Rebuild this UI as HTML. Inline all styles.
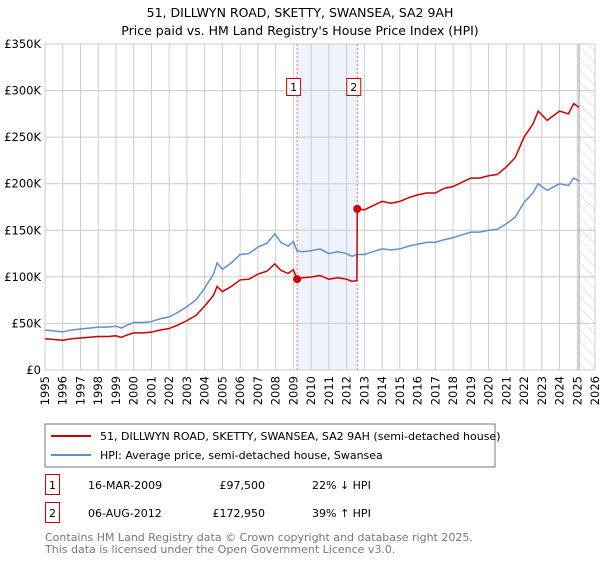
<!DOCTYPE html>
<html><head><meta charset="utf-8"><style>
body{margin:0;background:#fff;font-family:"Liberation Sans","DejaVu Sans",sans-serif;}
svg text{font-family:"DejaVu Sans","Liberation Sans",sans-serif;}
</style></head><body>
<svg id="c" width="600" height="560" xmlns="http://www.w3.org/2000/svg">
<defs><pattern id="hatch" width="8" height="8" patternUnits="userSpaceOnUse" patternTransform="rotate(-45)"><line x1="0" y1="0" x2="0" y2="8" stroke="#ccc" stroke-width="1"/></pattern></defs>
<text x="300" y="17" text-anchor="middle" font-size="12.5">51, DILLWYN ROAD, SKETTY, SWANSEA, SA2 9AH</text>
<text x="300" y="35" text-anchor="middle" font-size="12.5">Price paid vs. HM Land Registry's House Price Index (HPI)</text>
<g id="plot"></g>
<rect x="45" y="424" width="450" height="43" fill="#fff" stroke="#777"/>
<line x1="51" y1="436" x2="91" y2="436" stroke="#cc0000" stroke-width="2"/>
<text x="100" y="440" font-size="11">51, DILLWYN ROAD, SKETTY, SWANSEA, SA2 9AH (semi-detached house)</text>
<line x1="51" y1="455" x2="91" y2="455" stroke="#6090d0" stroke-width="2"/>
<text x="100" y="459" font-size="11">HPI: Average price, semi-detached house, Swansea</text>
<g>
<rect x="45.5" y="474.5" width="14" height="20" fill="#fff" stroke="#cc0000"/>
<text x="52.5" y="489" text-anchor="middle" font-size="11">1</text>
<text x="88" y="489" font-size="11">16-MAR-2009</text>
<text x="265" y="489" text-anchor="end" font-size="11">£97,500</text>
<text x="312" y="489" font-size="11">22% ↓ HPI</text></g>
<g>
<rect x="45.5" y="502.5" width="14" height="20" fill="#fff" stroke="#cc0000"/>
<text x="52.5" y="517" text-anchor="middle" font-size="11">2</text>
<text x="88" y="517" font-size="11">06-AUG-2012</text>
<text x="265" y="517" text-anchor="end" font-size="11">£172,950</text>
<text x="312" y="517" font-size="11">39% ↑ HPI</text></g>
<text x="45" y="541" font-size="11" fill="#777">Contains HM Land Registry data © Crown copyright and database right 2025.</text>
<text x="45" y="553" font-size="11" fill="#777">This data is licensed under the Open Government Licence v3.0.</text>
</svg>
<script>
const hpiYears=[1995,1995.5,1996,1996.5,1997,1997.5,1998,1998.5,1999,1999.3,1999.6,2000,2000.5,2001,2001.5,2002,2002.5,2003,2003.5,2004,2004.5,2004.7,2005,2005.5,2006,2006.5,2007,2007.5,2007.95,2008.3,2008.7,2009,2009.2,2009.5,2010,2010.5,2011,2011.5,2012,2012.3,2012.6,2013,2013.5,2014,2014.5,2015,2015.5,2016,2016.5,2017,2017.5,2018,2018.5,2019,2019.5,2020,2020.5,2021,2021.5,2022,2022.5,2022.8,2023,2023.3,2023.8,2024,2024.5,2024.8,2025.1];
const hpiValues=[43,42,41,43,44,45,46,46,47,45,48,51,51,52,55,57,62,68,75,88,103,115,108,115,124,125,132,136,146,137,133,138,128,127,128,130,125,127,125,122,124,124,127,130,129,130,133,135,137,137,140,142,145,148,148,150,151,157,164,180,190,200,197,193,198,200,198,206,203];
const priceYears=[1995,1995.5,1996,1996.5,1997,1997.5,1998,1998.5,1999,1999.3,1999.6,2000,2000.5,2001,2001.5,2002,2002.5,2003,2003.5,2004,2004.5,2004.7,2005,2005.5,2006,2006.5,2007,2007.5,2007.95,2008.3,2008.7,2009,2009.2,2009.5,2010,2010.5,2011,2011.5,2012,2012.3,2012.58,2012.6,2013,2013.5,2014,2014.5,2015,2015.5,2016,2016.5,2017,2017.5,2018,2018.5,2019,2019.5,2020,2020.5,2021,2021.5,2022,2022.5,2022.8,2023,2023.3,2023.8,2024,2024.5,2024.8,2025.1];
const priceValues=[33.5,32.8,32,33.5,34.3,35.1,35.9,35.9,36.7,35.1,37.4,39.8,39.8,40.6,42.9,44.5,48.4,53,58.5,68.6,80.3,89.7,84.2,89.7,96.7,97.5,103,106,113.9,106.9,103.7,107.6,97.5,99,99.8,101.4,97.5,99,97.5,95.2,96,173,172,176.5,181,179,181,185,188,190,190,195,197,201.5,206,206,208.5,210,218,228,250,264,278,274,268,275,278,275,286,282];
const saleYears=[2009.21,2012.6];
const saleValues=[97.5,172.95];
const saleLabels=["1","2"];
const yTicks=[0,50,100,150,200,250,300,350];
const yTickLabels=["£0","£50K","£100K","£150K","£200K","£250K","£300K","£350K"];
const xTicks=[1995,1996,1997,1998,1999,2000,2001,2002,2003,2004,2005,2006,2007,2008,2009,2010,2011,2012,2013,2014,2015,2016,2017,2018,2019,2020,2021,2022,2023,2024,2025,2026];

const NS="http://www.w3.org/2000/svg";
const X0=45,X1=595,Y0=370,Y1=44;
const xs=y=>X0+(y-1995)/(2026-1995)*(X1-X0);
const ys=v=>Y0-v/350*(Y0-Y1);
const g=document.getElementById('plot');
function mk(t,a,p){const e=document.createElementNS(NS,t);for(const k in a)e.setAttribute(k,a[k]);(p||g).appendChild(e);return e;}
let sh=mk('rect',{x:xs(saleYears[0]),y:Y1,width:xs(saleYears[1])-xs(saleYears[0]),height:Y0-Y1,fill:'#eef3fd'});


let ht=mk('rect',{x:xs(2025.1),y:Y1,width:X1-xs(2025.1),height:Y0-Y1,fill:'url(#hatch)'});


yTicks.forEach((v,i)=>{
 const l=mk('line',{x1:X0,x2:X1,y1:ys(v),y2:ys(v),stroke:'#ccc','stroke-width':1});
 
 
 const t=mk('text',{x:X0-4,y:ys(v)+4,'text-anchor':'end','font-size':11.5});
 t.textContent=yTickLabels[i];
 
 
});
xTicks.forEach(y=>{
 const l=mk('line',{x1:xs(y),x2:xs(y),y1:Y1,y2:Y0,stroke:'#ccc','stroke-width':1});
 
 
 const t=mk('text',{x:0,y:0,'text-anchor':'end','font-size':11.5,transform:`translate(${xs(y)+4},${Y0+6}) rotate(-90)`});
 t.textContent=y;
 
 
});
let vl=mk('line',{x1:xs(2025.1),x2:xs(2025.1),y1:Y1,y2:Y0,stroke:'#999','stroke-width':1});


let fr=mk('rect',{x:X0,y:Y1,width:X1-X0,height:Y0-Y1,fill:'none',stroke:'#ccc'});


saleYears.forEach((y,i)=>{
 const l=mk('line',{x1:xs(y),x2:xs(y),y1:Y1,y2:Y0,stroke:'#f07070','stroke-width':1,'stroke-dasharray':'2,2'});
 
 
});
const hp=mk('polyline',{points:hpiYears.map((y,i)=>xs(y)+','+ys(hpiValues[i])).join(' '),fill:'none',stroke:'#6090d0','stroke-width':1.5});


const pr=mk('polyline',{points:priceYears.map((y,i)=>xs(y)+','+ys(priceValues[i])).join(' '),fill:'none',stroke:'#cc0000','stroke-width':1.5});


saleYears.forEach((y,i)=>{
 const c=mk('circle',{cx:xs(y),cy:ys(saleValues[i]),r:4,fill:'#cc0000'});
 
 
 const b=mk('rect',{x:xs(y)-10.5,y:78.5,width:14,height:17,fill:'#fff',stroke:'#cc0000'});
 
 
 const t=mk('text',{x:xs(y)-3.5,y:91,'text-anchor':'middle','font-size':11});
 t.textContent=saleLabels[i];
 
 
});
</script>
</body></html>
